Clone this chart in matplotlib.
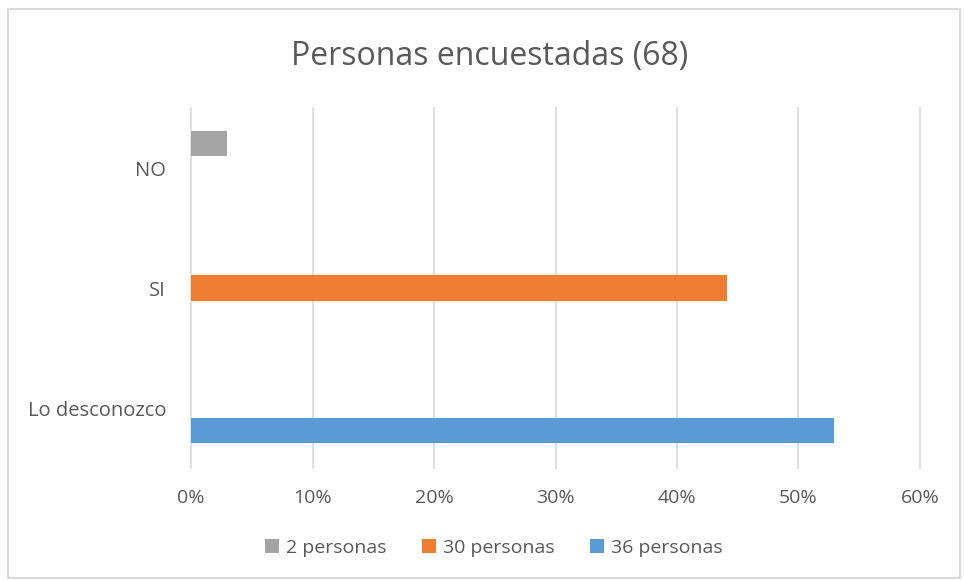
import matplotlib.pyplot as plt
from matplotlib.patches import Rectangle

plt.rcParams['font.family'] = ['Open Sans', 'DejaVu Sans']

categories = ['Lo desconozco', 'SI', 'NO']
series_names = ['2 personas', '30 personas', '36 personas']
# percent of 68 people, one series per answer
series_values = [
    [0, 0, 2.94],    # 2 personas -> NO
    [0, 44.1, 0],    # 30 personas -> SI
    [52.9, 0, 0],    # 36 personas -> Lo desconozco
]
colors = ['#a5a5a5', '#ed7d31', '#5b9bd5']
offsets = [0.205, 0.0, -0.19]
xticks = [0, 10, 20, 30, 40, 50, 60]

text_col = '#595959'
grid_col = '#d9d9d9'

fig = plt.figure(figsize=(9.64, 5.81), dpi=100)
ax = fig.add_axes([191 / 964, 1 - 468 / 581, (920 - 191) / 964, 360 / 581])

for name, vals, col, off in zip(series_names, series_values, colors, offsets):
    ys = [i + off for i in range(len(categories))]
    ax.barh(ys, vals, height=0.21, color=col, label=name, zorder=3)

ax.set_xlim(0, 60)
ax.set_ylim(-0.5, 2.5)
ax.set_xticks(xticks)
ax.set_xticklabels([f'{t}%' for t in xticks], fontsize=14, color=text_col)
ax.set_yticks(range(len(categories)))
ax.set_yticklabels(categories, fontsize=14.5, color=text_col)
ax.tick_params(length=0, pad=18)
ax.tick_params(axis='x', pad=15)
# vertical gridlines, drawn unclipped so the 0% and 60% lines show fully
for t in xticks:
    ax.axvline(t, color=grid_col, linewidth=1.2, zorder=0, clip_on=False)
for s in ax.spines.values():
    s.set_visible(False)

fig.text(490 / 964, 1 - 56 / 581, 'Personas encuestadas (68)', ha='center', va='center',
         fontsize=23, color=text_col)

fig.legend(loc='center', bbox_to_anchor=(494 / 964, 1 - 548 / 581), ncol=3, frameon=False,
           fontsize=14, labelcolor=text_col, handlelength=0.7, handleheight=0.7,
           handletextpad=0.4, columnspacing=1.8)

fig.patches.append(Rectangle((8 / 964, 3 / 581), 952 / 964, 569 / 581, transform=fig.transFigure,
                             fill=False, edgecolor='#d9d9d9', linewidth=1.5))

fig.savefig('out.png', dpi=100)
